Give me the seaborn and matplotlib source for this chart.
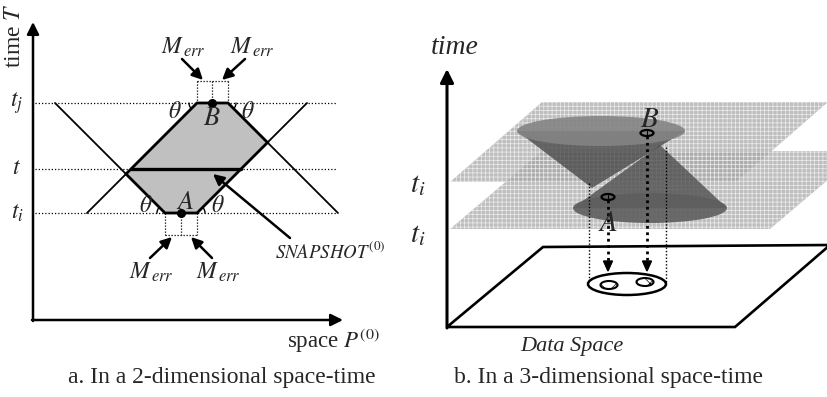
import numpy as np
import pandas as pd
import matplotlib
matplotlib.use("Agg")
import matplotlib.pyplot as plt
from matplotlib.patches import Polygon, Ellipse
import seaborn as sns

# ---------------- data (diagram geometry, pixel space) ----------------
time_labels = ["$t_j$", "$t$", "$t_i$"]
time_levels = [103, 169, 213]           # t_j, t, t_i
a_segment = [165, 197]                  # A's error interval at t_i
b_segment = [197, 228]                  # B's error interval at t_j
point_a = [181, 213]
point_b = [212, 103]

right_labels = ["$t_i$", "$t_i$"]
right_label_y = [185, 235]
upper_plane = [(450, 182), (736, 182), (828, 102), (542, 102)]
lower_plane = [(450, 229), (770, 229), (862, 151), (542, 151)]
data_plane = [(447, 327), (735, 327), (830, 245), (543, 247)]
upper_cone_base = [601, 131, 168, 30]   # cx, cy, w, h
upper_cone_apex = [592, 188]
lower_cone_base = [650, 208, 154, 30]
lower_cone_apex = [660, 145]
marker_b = [647, 133]
marker_a = [608, 197]
proj_ellipse = [627, 284, 78, 22]
proj_points = [(609, 285), (645, 282)]

sns.set_theme(style="white")
plt.rcParams["font.family"] = ["Liberation Serif", "DejaVu Serif"]
plt.rcParams["mathtext.fontset"] = "stix"
plt.rcParams["hatch.linewidth"] = 0.5

fig = plt.figure(figsize=(8.27, 3.97), dpi=100)
ax = fig.add_axes([0, 0, 1, 1])
ax.set_xlim(0, 827)
ax.set_ylim(397, 0)
ax.axis("off")

K = "black"

def arrow(x0, y0, x1, y1, lw=1.8, ms=16):
    ax.annotate("", xy=(x1, y1), xytext=(x0, y0),
                arrowprops=dict(arrowstyle="-|>", lw=lw, color=K,
                                mutation_scale=ms, shrinkA=0, shrinkB=0))

# ---------------- panel a ----------------
tj, tt, ti = time_levels
for y in time_levels:
    ax.plot([35, 336], [y, y], color=K, lw=0.9, ls=(0, (1, 1.6)))
for lab, y in zip(time_labels, time_levels):
    ax.text(17, y, lab, fontsize=17, ha="center", va="center")

h = ti - tj
lines = pd.DataFrame({
    "x": [a_segment[0], a_segment[0] - h, a_segment[1], a_segment[1] + h,
          b_segment[0], b_segment[0] - h, b_segment[1], b_segment[1] + h],
    "y": [ti, tj, ti, tj, tj, ti, tj, ti],
    "line": [0, 0, 1, 1, 2, 2, 3, 3],
})
sns.lineplot(data=lines, x="x", y="y", units="line", estimator=None,
             sort=False, color=K, lw=1.3, ax=ax, legend=False)

yl = (b_segment[0] + tj - a_segment[0] + ti) / 2
xl = b_segment[0] + tj - yl
yr = (a_segment[1] + ti - b_segment[1] + tj) / 2
xr = b_segment[1] + (yr - tj)
hexv = [(b_segment[0], tj), (b_segment[1], tj), (xr, yr),
        (a_segment[1], ti), (a_segment[0], ti), (xl, yl)]
ax.add_patch(Polygon(hexv, closed=True, facecolor="#c0c0c0",
                     edgecolor=K, lw=2.0, zorder=3))
ax.plot([b_segment[0] - (tt - tj), a_segment[1] + (ti - tt)], [tt, tt],
        color=K, lw=2.4, zorder=4)
ax.plot(*point_a, "o", color=K, ms=5.5, zorder=5)
ax.plot(*point_b, "o", color=K, ms=5.5, zorder=5)

dot = dict(color=K, lw=0.9, ls=(0, (1, 1.4)))
for xv in [b_segment[0], point_b[0], b_segment[1]]:
    ax.plot([xv, xv], [81, tj], **dot)
ax.plot([b_segment[0], b_segment[1]], [81, 81], **dot)
for xv in [a_segment[0], point_a[0], a_segment[1]]:
    ax.plot([xv, xv], [ti, 235], **dot)
ax.plot([a_segment[0], a_segment[1]], [235, 235], **dot)

arrow(182, 59, 203, 80)
arrow(245, 59, 222, 80)
arrow(150, 258, 172, 237)
arrow(212, 258, 191, 237)
for (x, y) in [(183, 47), (252, 47), (151, 272), (218, 272)]:
    ax.text(x, y, r"$M_{\,err}$", fontsize=17, ha="center", va="center")

def hook(cx, cy, dx, dy, r=8):
    a = np.linspace(0, np.pi / 4, 12)
    xs = cx + dx * r * np.cos(a)
    ys = cy + dy * r * np.sin(a)
    ax.plot(xs, ys, color=K, lw=1.0, zorder=4)

hook(b_segment[0], tj, -1, 1)
hook(b_segment[1], tj, 1, 1)
hook(a_segment[0], ti, -1, -1)
hook(a_segment[1], ti, 1, -1)
for (x, y) in [(175, 112), (248, 112), (146, 207), (218, 206)]:
    ax.text(x, y, r"$\theta$", fontsize=17, ha="center", va="center")
ax.text(point_b[0], 119, "$B$", fontsize=19, ha="center", va="center", zorder=6)
ax.text(point_a[0] + 4, 203, "$A$", fontsize=19, ha="center", va="center", zorder=6)

arrow(290, 238, 213, 174, lw=1.8)
ax.text(330, 252, r"$SNAPSHOT^{(0)}$", fontsize=13.5, ha="center", va="center")

arrow(33, 321, 33, 22, lw=1.8, ms=18)
arrow(32, 320, 343, 320, lw=1.8, ms=18)
ax.text(14, 36, r"time $T$", fontsize=17, rotation=90, ha="center", va="center")
ax.text(333, 341, r"space $P^{(0)}$", fontsize=16.5, ha="center", va="center")
ax.text(222, 378, "a. In a 2-dimensional space-time", fontsize=17,
        ha="center", va="center")

# ---------------- panel b ----------------
for pl in [upper_plane, lower_plane]:
    ax.add_patch(Polygon(pl, closed=True, facecolor="#a6a6a6",
                         edgecolor="white", hatch="++++", lw=0, alpha=0.72,
                         zorder=1))

def cone(base, apex, body, top, z):
    cx, cy, w, hh = base
    tri = [(cx - w / 2, cy), (cx + w / 2, cy), tuple(apex)]
    ax.add_patch(Polygon(tri, closed=True, facecolor=body, edgecolor="none",
                         alpha=0.8, zorder=z))
    ax.add_patch(Ellipse((cx, cy), w, hh, facecolor=top, edgecolor="none",
                         alpha=0.9, zorder=z + 0.1))

cone(lower_cone_base, lower_cone_apex, "#4f4f4f", "#5e5e5e", 2)
cone(upper_cone_base, upper_cone_apex, "#4a4a4a", "#848484", 2.5)

for (mx, my) in [marker_b, marker_a]:
    ax.add_patch(Ellipse((mx, my), 13, 6, facecolor="none", edgecolor=K,
                         lw=1.6, zorder=6))
    ax.plot([mx, mx], [my - 2, my + 2], color=K, lw=0.8, zorder=6)

for (mx, my) in [marker_b, marker_a]:
    ax.plot([mx, mx], [my + 3, 262], color=K, lw=2.0, ls=(0, (1, 1.3)), zorder=5)
    ax.add_patch(Polygon([(mx - 4.5, 261), (mx + 4.5, 261), (mx, 271)],
                         closed=True, facecolor=K, edgecolor=K, zorder=5))
for (x0, y0) in [(589, 183), (666, 147)]:
    ax.plot([x0, x0], [y0, 283], color=K, lw=1.0, ls=(0, (1, 1.4)), zorder=5)

ax.text(650, 120, "$B$", fontsize=21, ha="center", va="center", zorder=7)
ax.text(608, 224, "$A$", fontsize=21, ha="center", va="center", zorder=7)

ax.add_patch(Polygon(data_plane, closed=True, facecolor="none",
                     edgecolor=K, lw=1.9, zorder=4))
cx, cy, w, hh = proj_ellipse
ax.add_patch(Ellipse((cx, cy), w, hh, facecolor="white", edgecolor=K,
                     lw=1.8, zorder=5))
for (px, py) in proj_points:
    ax.add_patch(Ellipse((px, py), 17, 8, facecolor="none", edgecolor=K,
                         lw=1.5, hatch="xx", zorder=6))

arrow(447, 328, 447, 69, lw=2.2, ms=20)
ax.text(455, 47, "time", fontsize=20, style="italic", ha="center", va="center")
for lab, y in zip(right_labels, right_label_y):
    ax.text(418, y, lab, fontsize=21, ha="center", va="center")
ax.text(572, 346, "Data Space", fontsize=16, style="italic",
        ha="center", va="center")
ax.text(608, 377, "b. In a 3-dimensional space-time", fontsize=17,
        ha="center", va="center")

fig.savefig("out.png", dpi=100)
